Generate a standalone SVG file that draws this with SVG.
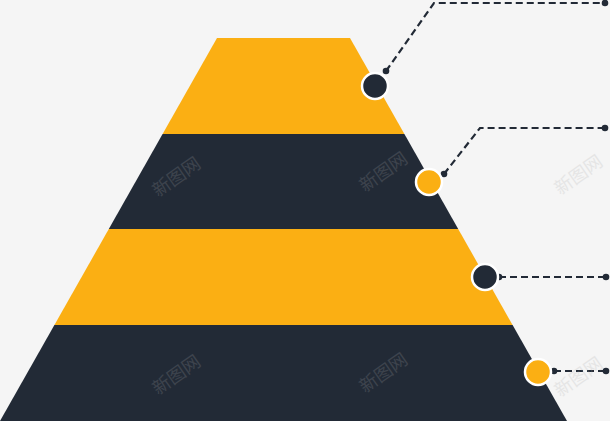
<svg xmlns="http://www.w3.org/2000/svg" width="610" height="421" viewBox="0 0 610 421">
  <style>
    .yellow { fill: #FBAF13; }
    .dark { fill: #222A36; }
    .ring { stroke: #FFFFFF; stroke-width: 2.5; }
    .dash { fill: none; stroke: #222A36; stroke-width: 2.2; stroke-dasharray: 7 4; }
    .dot { fill: #222A36; }
    .wm { font-family: "Noto Sans CJK SC", "Noto Sans", sans-serif; font-size: 18px; fill: #A8A8A8; opacity: 0.2; text-anchor: middle; }
  </style>
  <rect x="0" y="0" width="610" height="421" fill="#F5F5F5"/>

  <g id="band1"><polygon class="yellow" points="217,38 350,38 404.4,134 162.6,134"/></g>
  <g id="band2"><polygon class="dark" points="162.6,134 404.4,134 458.2,229 108.8,229"/></g>
  <g id="band3"><polygon class="yellow" points="108.8,229 458.2,229 512.6,325 54.4,325"/></g>
  <g id="band4"><polygon class="dark" points="54.4,325 512.6,325 567,421 0,421"/></g>

  <g id="connectors">
    <polyline class="dash" points="386,71 434,3 605,3"/>
    <polyline class="dash" points="444,174 480,128 605,128"/>
    <polyline class="dash" points="499,277 606,277"/>
    <polyline class="dash" points="554,371 606,371"/>
    <circle class="dot" cx="386" cy="71" r="3.3"/>
    <circle class="dot" cx="605" cy="3" r="3.3"/>
    <circle class="dot" cx="444" cy="174" r="3.3"/>
    <circle class="dot" cx="605" cy="128" r="3.3"/>
    <circle class="dot" cx="499" cy="277" r="3.3"/>
    <circle class="dot" cx="606" cy="277" r="3.3"/>
    <circle class="dot" cx="554" cy="371" r="3.3"/>
    <circle class="dot" cx="606" cy="371" r="3.3"/>
  </g>

  <g id="marker1"><circle class="dark ring" cx="375" cy="86" r="13"/></g>
  <g id="marker2"><circle class="yellow ring" cx="429" cy="182" r="13"/></g>
  <g id="marker3"><circle class="dark ring" cx="485" cy="277" r="13"/></g>
  <g id="marker4"><circle class="yellow ring" cx="538" cy="372" r="13"/></g>

  <g id="watermarks">
    <text class="wm" transform="translate(180,182) rotate(-35)">新图网</text>
    <text class="wm" transform="translate(387,177) rotate(-35)">新图网</text>
    <text class="wm" transform="translate(582,180) rotate(-35)">新图网</text>
    <text class="wm" transform="translate(180,380) rotate(-35)">新图网</text>
    <text class="wm" transform="translate(387,378) rotate(-35)">新图网</text>
    <text class="wm" transform="translate(582,382) rotate(-35)">新图网</text>
  </g>
</svg>
